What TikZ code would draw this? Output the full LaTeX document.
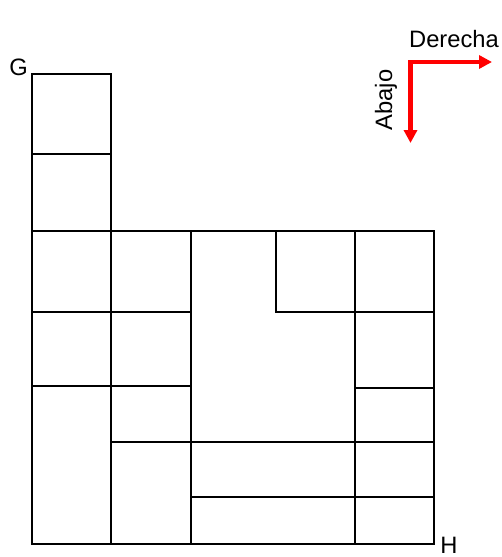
\documentclass[tikz,border=0pt]{standalone}
\usepackage{fontspec}
\setmainfont{Liberation Sans}
\usetikzlibrary{arrows.meta}

\begin{document}
\begin{tikzpicture}[x=0.02cm,y=-0.02cm,
cell/.style={draw,line width=1pt},
lbl/.style={font=\fontsize{13.5}{15}\selectfont,anchor=base,inner sep=0pt},
arr/.style={draw=red,line width=2.3pt,line join=miter,{Triangle[length=0.26cm,width=0.26cm]}-{Triangle[length=0.26cm,width=0.26cm]}}]
\useasboundingbox (0,0) rectangle (501,557);
% left column
\draw[cell](32,74) rectangle (111,154);\draw[cell](32,154) rectangle (111,231);
\draw[cell](32,231) rectangle (111,312);\draw[cell](32,312) rectangle (111,386);
\draw[cell](32,386) rectangle (111,544);
% second column
\draw[cell](111,231) rectangle (191,312);\draw[cell](111,312) rectangle (191,386);
\draw[cell](111,386) rectangle (191,442);\draw[cell](111,442) rectangle (191,544);
% middle block
\draw[cell](191,231) rectangle (355,442);\draw[cell](276,231) rectangle (355,312);
\draw[cell](191,442) rectangle (355,497);\draw[cell](191,497) rectangle (355,544);
% right column
\draw[cell](355,231) rectangle (434,312);\draw[cell](355,312) rectangle (434,388);
\draw[cell](355,388) rectangle (434,442);\draw[cell](355,442) rectangle (434,497);
\draw[cell](355,497) rectangle (434,544);
% corner labels
\node[lbl] at (18.5,76)(g){G};
\node[lbl] at (449,553)(h){H};
% direction arrows
\coordinate (abajotip) at (410.5,143);
\coordinate (derechatip) at (492,62);
\draw[arr](abajotip) |- (derechatip);
\node[lbl] at (454,48)(derecha){Derecha};
\node[lbl,rotate=90] at (392,100)(abajo){Abajo};
\end{tikzpicture}
\end{document}
